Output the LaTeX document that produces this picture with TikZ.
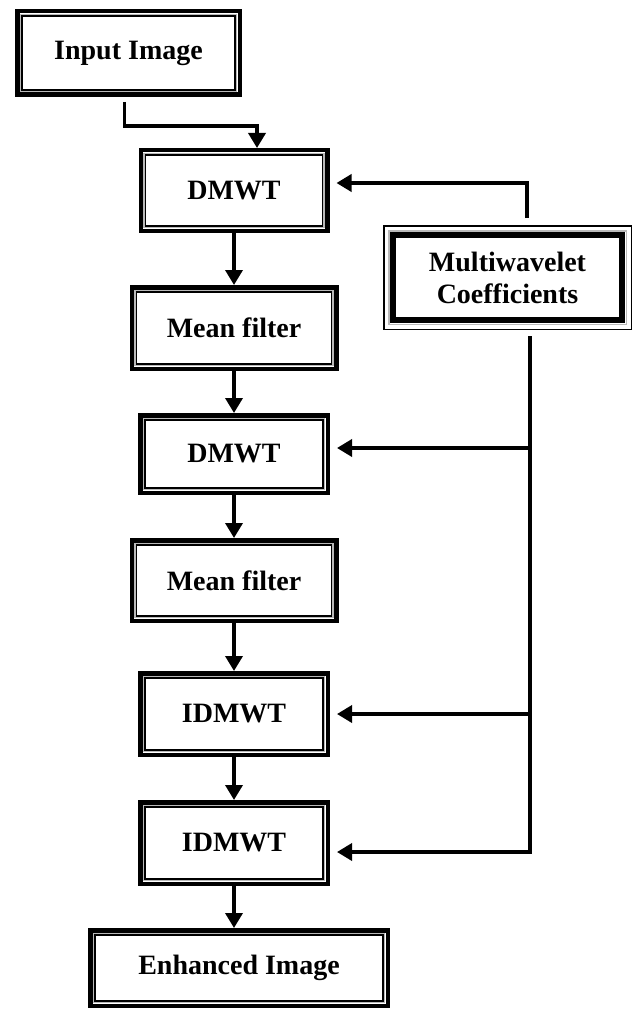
\documentclass[tikz,border=0pt]{standalone}
\usepackage{fontspec}
\setmainfont{Liberation Serif}
\usepackage{tikz}
\usetikzlibrary{arrows.meta,calc}

\begin{document}
\begin{tikzpicture}[x=1pt, y=-1pt,
    procbox/.style={rectangle, draw, line width=4.5pt, inner sep=0pt, align=center,
                 font=\fontsize{28}{32}\selectfont\bfseries,
                 path picture={
                   \draw[gray!55, line width=1.5pt] ([shift={(3.2pt,-3.2pt)}]path picture bounding box.north west) rectangle ([shift={(-3.2pt,3.2pt)}]path picture bounding box.south east);
                   \draw[line width=1.6pt] ([shift={(4.9pt,-4.9pt)}]path picture bounding box.north west) rectangle ([shift={(-4.9pt,4.9pt)}]path picture bounding box.south east);}},
    coefbox/.style={rectangle, draw, line width=1.5pt, inner sep=0pt, align=center,
                 font=\fontsize{28}{32}\selectfont\bfseries,
                 path picture={
                   \draw[gray!55, line width=1.5pt] ([shift={(5pt,-5pt)}]path picture bounding box.north west) rectangle ([shift={(-5pt,5pt)}]path picture bounding box.south east);
                   \draw[line width=6pt] ([shift={(9.3pt,-9.3pt)}]path picture bounding box.north west) rectangle ([shift={(-9.3pt,9.3pt)}]path picture bounding box.south east);}},
    arr/.style={-{Triangle[length=15pt, width=17pt]}, line width=3.5pt}
]
\useasboundingbox (0,0) rectangle (641,1011);

\node[procbox, minimum width=222.5pt, minimum height=83.5pt] (inp) at (128.5,53)  {Input Image};
\node[procbox, minimum width=186.5pt, minimum height=80.5pt] (dm1) at (234,190.5)  {DMWT};
\node[procbox, minimum width=204.5pt, minimum height=81.5pt] (mf1) at (234,328)    {Mean filter};
\node[procbox, minimum width=187.5pt, minimum height=77.5pt] (dm2) at (234,454)    {DMWT};
\node[procbox, minimum width=204.5pt, minimum height=80.5pt] (mf2) at (234,580.5)  {Mean filter};
\node[procbox, minimum width=187.5pt, minimum height=81.5pt] (id1) at (234,714)    {IDMWT};
\node[procbox, minimum width=187.5pt, minimum height=81.5pt] (id2) at (234,843)    {IDMWT};
\node[procbox, minimum width=297.5pt, minimum height=75.5pt] (enh) at (239,968)    {Enhanced Image};
\node[coefbox, minimum width=247.5pt, minimum height=103.5pt] (coef) at (507.5,277.5) {Multiwavelet\\Coefficients};

% main chain
\draw[arr, shorten <=5pt] ([xshift=-4pt]inp.south) -- ++(0,29) -| ([xshift=23pt]dm1.north);
\draw[arr] (dm1.south) -- (mf1.north);
\draw[arr] (mf1.south) -- (dm2.north);
\draw[arr] (dm2.south) -- (mf2.north);
\draw[arr] (mf2.south) -- (id1.north);
\draw[arr] (id1.south) -- (id2.north);
\draw[arr] (id2.south) -- (id2.south |- enh.north);

% coefficient feed lines
\coordinate (trA) at (527,183);
\coordinate (trB) at (530,852);
\draw[arr, shorten <=7pt, shorten >=7pt] (coef.north -| trA) -- (trA) -- (dm1.east |- trA);
\draw[arr, shorten <=6pt, shorten >=7pt] (coef.south -| trB) -- (trB) -- (id2.east |- trB);
\draw[arr, shorten >=7pt] (trB |- 0,448) -- (dm2.east |- 0,448);
\draw[arr, shorten >=7pt] (trB |- id1.east) -- (id1.east);
\end{tikzpicture}
\end{document}
